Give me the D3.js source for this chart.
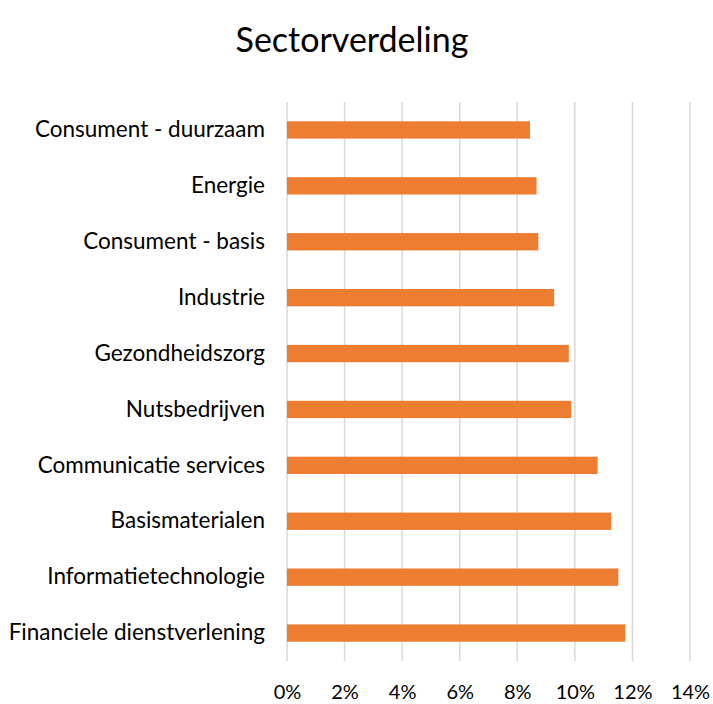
<!DOCTYPE html>
<meta charset="utf-8">
<html>
  <head>
    <title>Sectorverdeling</title>
    <script src="https://d3js.org/d3.v7.min.js"></script>
    <style>
      body{margin:0;background:#fff;}
      text{font-family:Lato,"Open Sans",sans-serif;fill:#000;}
    </style>
  </head>
  <body>
    <div id="chart"></div>
  <script>
    var sectors=["Consument - duurzaam","Energie","Consument - basis","Industrie","Gezondheidszorg",
                 "Nutsbedrijven","Communicatie services","Basismaterialen","Informatietechnologie","Financiele dienstverlening"];
    var shares=[8.44,8.67,8.73,9.28,9.79,9.87,10.79,11.26,11.51,11.75];
    var xTicks=[0,2,4,6,8,10,12,14];

    var width=713,height=704;
    var plotLeft=287,plotRight=690,plotTop=102,plotBottom=661;

    var svg=d3.select("#chart").append("svg")
      .attr("width",width)
      .attr("height",height);

    var x=d3.scaleLinear().domain([0,14]).range([plotLeft,plotRight]);
    var y=d3.scaleBand().domain(sectors).range([plotTop,plotBottom])
      .paddingInner(0.69).paddingOuter(0.345);

    // title
    svg.append("text")
      .attr("x",352).attr("y",52)
      .attr("text-anchor","middle")
      .style("font-size","34px")
      .text("Sectorverdeling");

    // gridlines
    svg.append("g").selectAll("line")
      .data(xTicks).enter().append("line")
      .attr("x1",function(d){return x(d)}).attr("x2",function(d){return x(d)})
      .attr("y1",plotTop).attr("y2",plotBottom)
      .attr("stroke","#d9d9d9")
      .attr("stroke-width",1.5);

    // bars
    svg.append("g").selectAll("rect")
      .data(shares).enter().append("rect")
      .attr("x",x(0))
      .attr("y",function(d,i){return y(sectors[i])})
      .attr("width",function(d){return x(d)-x(0)})
      .attr("height",y.bandwidth())
      .attr("fill","#ed7d31");

    // x axis labels
    var xAxis=svg.append("g")
      .attr("transform","translate(0,"+plotBottom+")")
      .call(d3.axisBottom(x).tickValues(xTicks).tickSize(0).tickPadding(24)
        .tickFormat(function(d){return d+"%"}));
    xAxis.select(".domain").remove();
    xAxis.selectAll("text").style("font-size","20px").style("fill","#000");

    // category labels
    var yAxis=svg.append("g")
      .attr("transform","translate("+plotLeft+",0)")
      .call(d3.axisLeft(y).tickSize(0).tickPadding(22));
    yAxis.select(".domain").remove();
    yAxis.selectAll("text").style("font-size","22.5px").style("fill","#000");
  </script>
  </body>
</html>
